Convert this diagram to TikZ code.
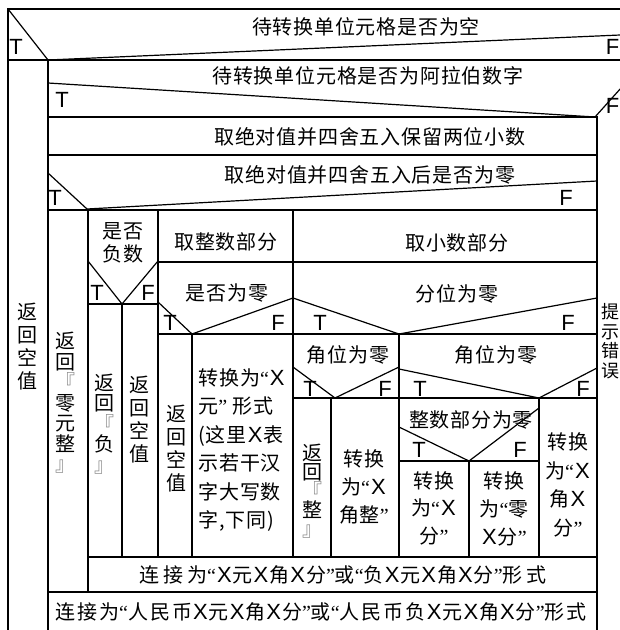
\documentclass[tikz,border=0pt]{standalone}
\usepackage{fontspec}
\setmainfont[LetterSpace=4]{Noto Sans CJK SC}
\newfontfamily\tffont{Liberation Sans}
\newfontfamily\qfont{Liberation Serif}
\newcommand\X{{\tffont\fontsize{22}{22}\selectfont\kern1pt X\kern1pt}}
\newcommand\oq{{\qfont “}}
\newcommand\cq{{\qfont ”}}
\newcommand\lbk{\textcolor{gray}{『}}
\newcommand\rbk{\textcolor{gray}{』}}

\begin{document}
\begin{tikzpicture}[x=1pt,y=-1pt,line width=1.2pt,
    every node/.style={inner sep=0pt},
    txt/.style={font=\fontsize{20}{23}\selectfont},
    stack/.style={font=\fontsize{20}{23}\selectfont,align=center},
    tf/.style={font=\tffont\fontsize{22}{22}\selectfont}]
  \useasboundingbox (0,0) rectangle (620,630);
  \clip (0,0) rectangle (620,630);
  % outer frame and the first two tests
  \draw (8,640) -- (8,9) -- (640,9);
  \draw (8,9) -- (48,60) -- (620,35);
  \draw (8,60) -- (640,60);
  \draw (48,640) -- (48,60);
  \draw (48,83) -- (595,117) -- (630,78);
  \draw (48,117) -- (597,117) -- (597,640);
  \draw (48,155) -- (597,155);
  \draw (48,173) -- (87,209) -- (597,181);
  \draw (48,210) -- (597,210);
  % left part
  \draw (88,210) -- (88,592);
  \draw (158,210) -- (158,557);
  \draw (88,261) -- (122,304) -- (158,261);
  \draw (88,304) -- (158,304);
  \draw (122,304) -- (122,557);
  \draw (158,262) -- (597,262);
  \draw (293,210) -- (293,557);
  \draw (158,302) -- (192,334) -- (293,298);
  \draw (158,334) -- (293,334);
  \draw (192,334) -- (192,557);
  % right part
  \draw (293,298) -- (399,334) -- (597,298);
  \draw (293,334) -- (597,334);
  \draw (399,334) -- (399,557);
  \draw (293,367) -- (335,398) -- (399,367);
  \draw (293,398) -- (597,398);
  \draw (331,398) -- (331,557);
  \draw (399,369) -- (539,398) -- (597,368);
  \draw (539,398) -- (539,557);
  \draw (399,427) -- (469,461) -- (539,408);
  \draw (399,461) -- (539,461);
  \draw (469,461) -- (469,557);
  \draw[line width=2pt] (88,557) -- (597,557);
  \draw (48,592) -- (597,592);

  % texts
  \node[txt] (empty) at (366,27) {待转换单位元格是否为空};
  \node[txt] (arab) at (368,76) {待转换单位元格是否为阿拉伯数字};
  \node[txt] (round) at (370,137) {取绝对值并四舍五入保留两位小数};
  \node[txt] (zero) at (370,175) {取绝对值并四舍五入后是否为零};
  \node[stack] (nul1) at (27,347) {返\\回\\空\\值};
  \node[stack,font=\fontsize{20}{20.5}\selectfont] (zyz) at (66,403) {返\\回\\\lbk\\零\\元\\整\\\rbk};
  \node[stack] (neg) at (123,243) {是否\\负数};
  \node[stack,font=\fontsize{20}{20.5}\selectfont] (fu) at (104,424) {返\\回\\\lbk\\负\\\rbk};
  \node[stack] (nul2) at (139,420) {返\\回\\空\\值};
  \node[txt] (intp) at (226,242) {取整数部分};
  \node[txt] (intz) at (227,293) {是否为零};
  \node[stack] (nul3) at (176,449) {返\\回\\空\\值};
  \node[txt,align=left,font=\fontsize{20}{28.5}\selectfont] (yuan) at (242,450)
    {转换为\oq\X{}\\元\cq{} 形式\\(这里\X{}表\\示若干汉\\字大写数\\字,下同)};
  \node[txt] (frac) at (457,243) {取小数部分};
  \node[txt] (fen) at (457,294) {分位为零};
  \node[txt] (jiao1) at (348,355) {角位为零};
  \node[txt] (jiao2) at (496,355) {角位为零};
  \node[stack,font=\fontsize{20}{19}\selectfont] (zheng) at (312,491) {返\\回\\\lbk\\整\\\rbk};
  \node[stack,font=\fontsize{20}{28}\selectfont] (jzh) at (364,487) {转换\\为\oq\X{}\\角整\cq};
  \node[txt] (intz2) at (471,420) {整数部分为零};
  \node[stack,font=\fontsize{20}{27.5}\selectfont] (xf) at (434,508) {转换\\为\oq\X{}\\分\cq};
  \node[stack,font=\fontsize{20}{28}\selectfont] (lxf) at (504,509) {转换\\为\oq{}零\\\X{}分\cq};
  \node[stack,font=\fontsize{20}{28.5}\selectfont] (xjxf) at (568,485) {转换\\为\oq\X{}\\角\X{}\\分\cq};
  \node[txt,font=\fontsize{20}{23}\selectfont\addfontfeatures{LetterSpace=19}] (join1) at (343,575)
    {连接为\oq\X{}元\X{}角\X{}分\cq{}或\oq{}负\X{}元\X{}角\X{}分\cq{}形式};
  \node[txt,font=\fontsize{20}{23}\selectfont\addfontfeatures{LetterSpace=10}] (join2) at (321,612)
    {连接为\oq{}人民币\X{}元\X{}角\X{}分\cq{}或\oq{}人民币负\X{}元\X{}角\X{}分\cq{}形式};
  \node[stack,font=\fontsize{18}{19.5}\selectfont] (err) at (610,341) {提\\示\\错\\误};

  % T and F marks
  \node[tf] (t1) at (16,47) {T};
  \node[tf,anchor=east] (f1) at (620,47) {F};
  \node[tf] (t2) at (62,100) {T};
  \node[tf,anchor=east] (f2) at (620,106) {F};
  \node[tf] (t3) at (55,198) {T};
  \node[tf] (f3) at (566,198) {F};
  \node[tf] (t4) at (97,293) {T};
  \node[tf] (f4) at (148,293) {F};
  \node[tf] (t5) at (170,323) {T};
  \node[tf] (f5) at (278,323) {F};
  \node[tf] (t6) at (320,323) {T};
  \node[tf] (f6) at (568,323) {F};
  \node[tf] (t7) at (310,389) {T};
  \node[tf] (f7) at (385,389) {F};
  \node[tf] (t8) at (420,389) {T};
  \node[tf] (f8) at (583,389) {F};
  \node[tf] (t9) at (419,450) {T};
  \node[tf] (f9) at (520,450) {F};
\end{tikzpicture}
\end{document}
